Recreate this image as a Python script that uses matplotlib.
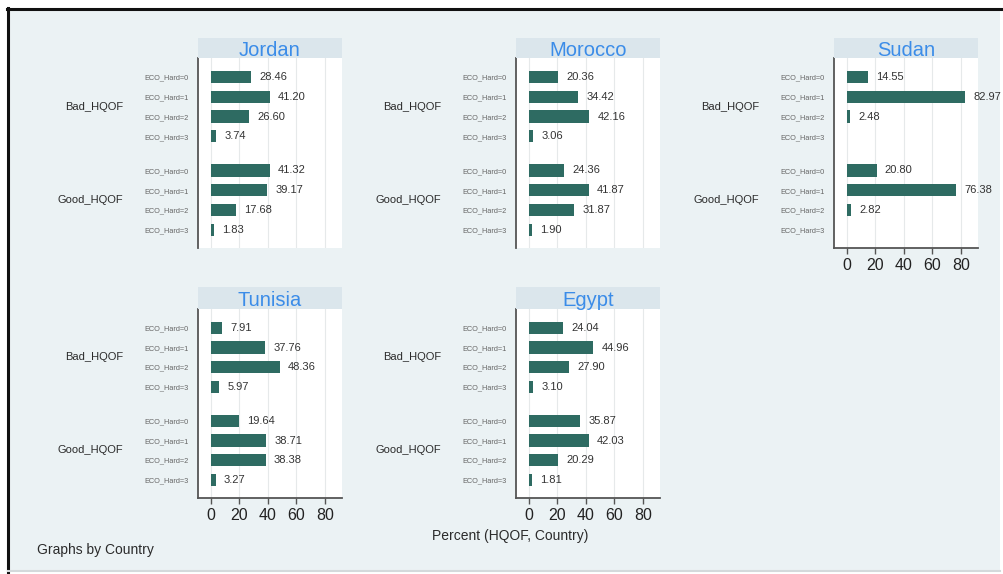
import numpy as np
import matplotlib
matplotlib.use("Agg")
import matplotlib.pyplot as plt
from matplotlib.patches import Rectangle
from matplotlib.lines import Line2D

plt.rcParams["font.family"] = ["Liberation Sans", "DejaVu Sans"]

# data
countries = ["Jordan", "Morocco", "Sudan", "Tunisia", "Egypt"]
groups = ["Bad_HQOF", "Good_HQOF"]
eco_labels = ["ECO_Hard=0", "ECO_Hard=1", "ECO_Hard=2", "ECO_Hard=3"]

jordan_bad = [28.46, 41.20, 26.60, 3.74]
jordan_good = [41.32, 39.17, 17.68, 1.83]
morocco_bad = [20.36, 34.42, 42.16, 3.06]
morocco_good = [24.36, 41.87, 31.87, 1.90]
sudan_bad = [14.55, 82.97, 2.48, np.nan]
sudan_good = [20.80, 76.38, 2.82, np.nan]
tunisia_bad = [7.91, 37.76, 48.36, 5.97]
tunisia_good = [19.64, 38.71, 38.38, 3.27]
egypt_bad = [24.04, 44.96, 27.90, 3.10]
egypt_good = [35.87, 42.03, 20.29, 1.81]

xticks = [0, 20, 40, 60, 80]

W, H = 1004, 574
BG = "#ebf2f4"
STRIP = "#dbe6ec"
BAR = "#2e6b62"
TITLE = "#3b8ce8"

fig = plt.figure(figsize=(W / 100, H / 100), dpi=100)
fig.patch.set_facecolor("white")

# background panel of the stata graph
fig.add_artist(Rectangle((8 / W, 1 - 570 / H), (1000 - 8) / W, (570 - 9) / H,
                         transform=fig.transFigure, facecolor=BG, edgecolor="none", zorder=-5))
# dark frame on top and left
fig.add_artist(Line2D([7 / W, 1], [1 - 9 / H, 1 - 9 / H], transform=fig.transFigure,
                      color="#111111", lw=2.2))
fig.add_artist(Line2D([8 / W, 8 / W], [0, 1 - 8 / H], transform=fig.transFigure,
                      color="#111111", lw=2.2))
fig.add_artist(Line2D([8 / W, 1000 / W], [1 - 571 / H, 1 - 571 / H], transform=fig.transFigure,
                      color="#d4d9db", lw=1.5))


def rect(x0, y0, x1, y1):
    return [x0 / W, 1 - y1 / H, (x1 - x0) / W, (y1 - y0) / H]


# pixel boxes: (left, strip top, plot top, plot bottom)
panels = {
    "Jordan": (198, 38, 58, 248, False, jordan_bad, jordan_good),
    "Morocco": (516, 38, 58, 248, False, morocco_bad, morocco_good),
    "Sudan": (834, 38, 58, 248, True, sudan_bad, sudan_good),
    "Tunisia": (198, 287, 309, 498, True, tunisia_bad, tunisia_good),
    "Egypt": (516, 287, 309, 498, True, egypt_bad, egypt_good),
}
width_px = 144

bad_pos = np.arange(4)
good_pos = np.arange(4) + 4.73
ypos = np.concatenate([bad_pos, good_pos])

for name in countries:
    x0, st, pt, pb, show_x, bad, good = panels[name]
    ax = fig.add_axes(rect(x0, pt, x0 + width_px, pb))
    ax.set_facecolor("white")
    vals = np.array(bad + good, dtype=float)
    ok = ~np.isnan(vals)
    ax.barh(ypos[ok], vals[ok], height=0.62, color=BAR, zorder=3)
    for y, v in zip(ypos[ok], vals[ok]):
        ax.annotate(f"{v:.2f}", (v, y), xytext=(6, 0), textcoords="offset points",
                    va="center", ha="left", fontsize=8, color="#333333", zorder=4)

    ax.set_xlim(-9.1, 92)
    ax.set_ylim(8.65, -0.96)
    ax.set_xticks(xticks)
    ax.xaxis.grid(True, color="#e6e9ea", lw=0.8, zorder=0)
    ax.set_axisbelow(True)
    ax.set_yticks(ypos)
    ax.set_yticklabels(eco_labels * 2, fontsize=5.3, color="#666666")
    ax.tick_params(axis="y", length=0, pad=7)

    for s in ["top", "right"]:
        ax.spines[s].set_visible(False)
    ax.spines["left"].set_color("#555555")
    ax.spines["left"].set_linewidth(1.3)
    if show_x:
        ax.spines["bottom"].set_color("#555555")
        ax.spines["bottom"].set_linewidth(1.3)
        ax.tick_params(axis="x", length=4, width=1, color="#555555", labelsize=11.5,
                       labelcolor="#222222", pad=3)
    else:
        ax.spines["bottom"].set_visible(False)
        ax.tick_params(axis="x", length=0, labelbottom=False)

    # group labels
    for g, yc in zip(groups, [bad_pos.mean(), good_pos.mean()]):
        ax.annotate(g, (0, yc), xycoords=("axes fraction", "data"), xytext=(-54, 0),
                    textcoords="offset points", ha="right", va="center",
                    fontsize=8, color="#2b2b2b")

    # title strip
    sx, sy, sw, sh = rect(x0, st, x0 + width_px, pt)
    fig.add_artist(Rectangle((sx, sy), sw, sh, transform=fig.transFigure,
                             facecolor=STRIP, edgecolor="none"))
    fig.text(sx + sw / 2, sy + sh / 2, name, ha="center", va="center_baseline",
             fontsize=14.5, color=TITLE)

fig.text(510 / W, 1 - 536 / H, "Percent (HQOF, Country)", ha="center", va="center",
         fontsize=10, color="#2b2b2b")
fig.text(37 / W, 1 - 550 / H, "Graphs by Country", ha="left", va="center",
         fontsize=10, color="#2b2b2b")

fig.savefig("out.png", dpi=100)
